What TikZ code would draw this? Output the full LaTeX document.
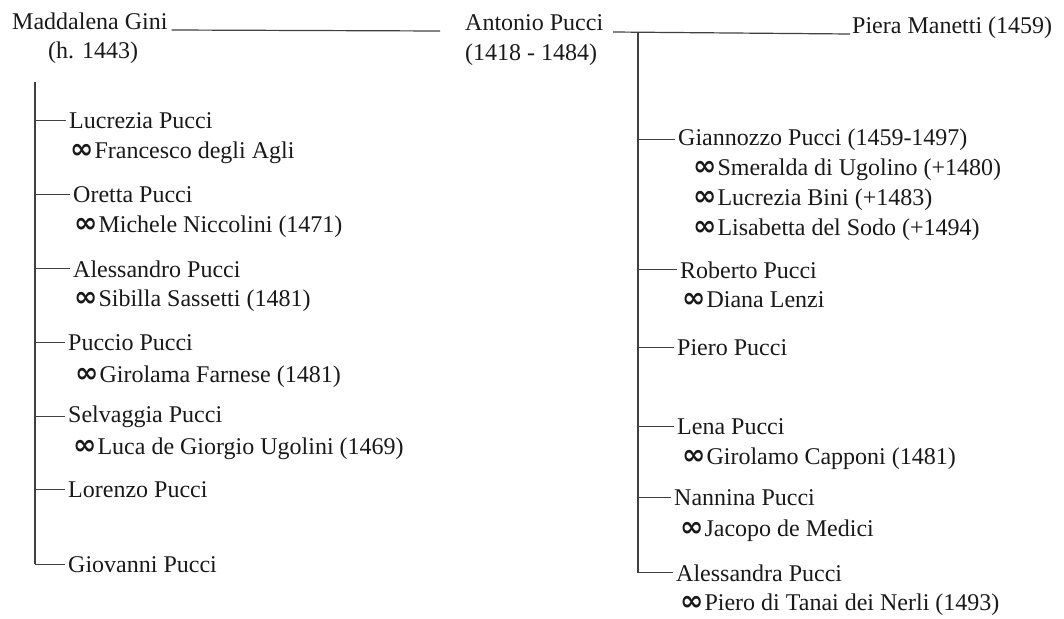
\documentclass[tikz,border=0pt]{standalone}
\usepackage{fontspec}
\setmainfont{Liberation Serif}
\newfontfamily\symfont{DejaVu Sans}
\usetikzlibrary{positioning}
\newcommand{\wed}{{\symfont\fontsize{28}{28}\selectfont\bfseries ∞}\hspace{1pt}}

\begin{document}
\begin{tikzpicture}[x=1pt,y=-1pt,
	person/.style={anchor=base west,inner xsep=3pt,inner ysep=0pt,text=black!90,font=\fontsize{24}{28}\selectfont},
	spouse/.style={anchor=base west,inner sep=0pt,text=black!90,font=\fontsize{24}{28}\selectfont},
	tie/.style={line width=1.2pt,draw=black!75}]
		\useasboundingbox (0,0) rectangle (1064,618);

		\node[spouse]	(mad)		at (12,30)		{Maddalena Gini};
		\node[spouse]	(madyr)		at (48,59)		{(h. 1443)};
		\node[spouse]	(ant)		at (465,31)		{Antonio Pucci};
		\node[spouse]	(antyr)		at (465,60)		{(1418 - 1484)};
		\node[spouse]	(pie)		at (852,34)		{Piera Manetti (1459)};

		\coordinate		(wedL)		at (440,31);
		\coordinate		(wedR)		at (613,32);
		\coordinate		(trunkL)	at (35,82);
		\coordinate		(trunkR)	at (638,32);

		\node[person]	(lucrezia)		at (66,128)		{Lucrezia Pucci};
		\node[spouse]	(lucrezias)		at (70,158)		{\wed Francesco degli Agli};
		\node[person]	(oretta)		at (70,202)		{Oretta Pucci};
		\node[spouse]	(orettas)		at (74,232)		{\wed Michele Niccolini (1471)};
		\node[person]	(alessandro)	at (70,277)		{Alessandro Pucci};
		\node[spouse]	(alessandros)	at (74,306)		{\wed Sibilla Sassetti (1481)};
		\node[person]	(puccio)		at (65,350)		{Puccio Pucci};
		\node[spouse]	(puccios)		at (75,382)		{\wed Girolama Farnese (1481)};
		\node[person]	(selvaggia)		at (65,422)		{Selvaggia Pucci};
		\node[spouse]	(selvaggias)	at (73,454)		{\wed Luca de Giorgio Ugolini (1469)};
		\node[person]	(lorenzo)		at (65,497)		{Lorenzo Pucci};
		\node[person]	(giovanni)		at (65,572)		{Giovanni Pucci};

		\node[person]	(giannozzo)		at (675,145)	{Giannozzo Pucci (1459-1497)};
		\node[spouse]	(giannozzos1)	at (693,175)	{\wed Smeralda di Ugolino (+1480)};
		\node[spouse]	(giannozzos2)	at (693,205)	{\wed Lucrezia Bini (+1483)};
		\node[spouse]	(giannozzos3)	at (693,235)	{\wed Lisabetta del Sodo (+1494)};
		\node[person]	(roberto)		at (677,278)	{Roberto Pucci};
		\node[spouse]	(robertos)		at (682,307)	{\wed Diana Lenzi};
		\node[person]	(piero)			at (674,355)	{Piero Pucci};
		\node[person]	(lena)			at (674,434)	{Lena Pucci};
		\node[spouse]	(lenas)			at (682,464)	{\wed Girolamo Capponi (1481)};
		\node[person]	(nannina)		at (671,505)	{Nannina Pucci};
		\node[spouse]	(nanninas)		at (680,536)	{\wed Jacopo de Medici};
		\node[person]	(alessandra)	at (673,581)	{Alessandra Pucci};
		\node[spouse]	(alessandras)	at (680,610)	{\wed Piero di Tanai dei Nerli (1493)};

		\draw[tie] ([xshift=4pt]mad.base east) -- (wedL);
		\draw[tie] (wedR) -- ([xshift=-2pt]pie.base west);
		\draw[tie] (trunkL) -- (trunkL |- giovanni.west);
		\draw[tie] (trunkR) -- (trunkR |- alessandra.west);

		\foreach \kid in {lucrezia,oretta,alessandro,puccio,selvaggia,lorenzo,giovanni}
			\draw[tie] (trunkL |- \kid.west) -- (\kid.west);
		\foreach \kid in {giannozzo,roberto,piero,lena,nannina,alessandra}
			\draw[tie] (trunkR |- \kid.west) -- (\kid.west);
	\end{tikzpicture}
\end{document}
